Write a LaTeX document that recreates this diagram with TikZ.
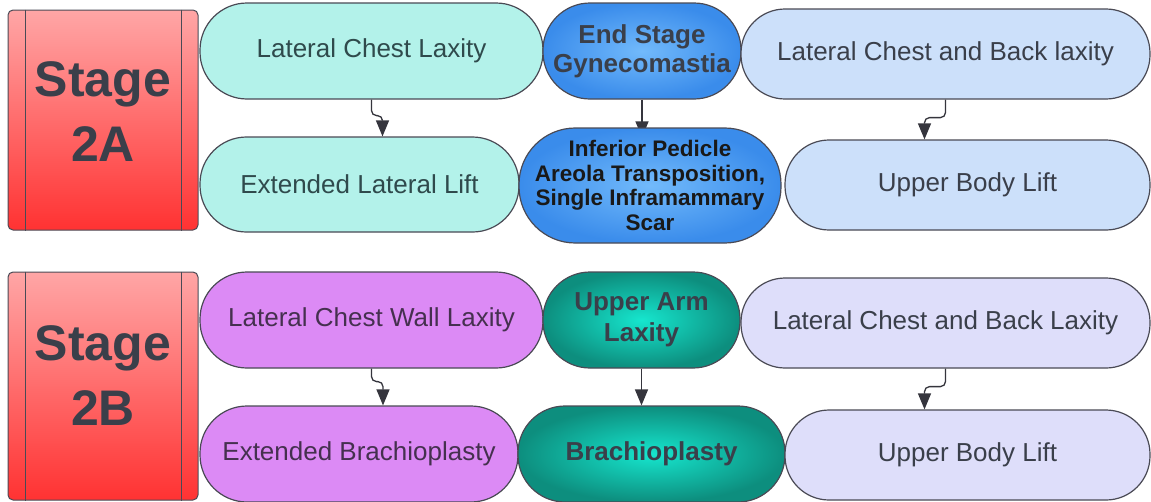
\documentclass[tikz,border=0pt]{standalone}
\usepackage{fontspec}
\setmainfont{Liberation Sans}
\usetikzlibrary{arrows.meta,calc}
\pgfdeclarelayer{background}
\pgfsetlayers{background,main}
\definecolor{strokec}{HTML}{4A4A55}
\definecolor{txtc}{HTML}{3A3F4A}
\definecolor{tealtxt}{HTML}{2F4A4C}
\definecolor{purptxt}{HTML}{45304F}
\definecolor{tealfill}{HTML}{B3F2EA}
\definecolor{bluefill}{HTML}{CCE0FA}
\definecolor{purplefill}{HTML}{DC8AF5}
\definecolor{lavfill}{HTML}{DEDEFA}
\definecolor{blueinner}{HTML}{72BAFB}
\definecolor{blueouter}{HTML}{3A8CEB}
\definecolor{tealinner}{HTML}{16E6CE}
\definecolor{tealouter}{HTML}{0D8E7E}
\definecolor{redtop}{HTML}{FFA6A6}
\definecolor{redbot}{HTML}{FF3232}
\definecolor{arrowc}{HTML}{35353D}
\newcommand\pillnode[7]{%
  \pgfmathsetmacro\mypw{#4-#2}%
  \pgfmathsetmacro\myph{#5-#3}%
  \pgfmathsetmacro\mypr{0.49*(#5-#3)}%
  \node[#6, minimum width=\mypw pt, minimum height=\myph pt, rounded corners=\mypr pt] (#1) at ({(#2+#4)/2},{(#3+#5)/2}) {#7};}
\begin{document}
\begin{tikzpicture}[x=1pt,y=-1pt,
  pill/.style={draw=strokec, line width=1.2pt, inner sep=0pt, align=center, text=txtc,
    font=\fontsize{26}{29}\selectfont},
  teal/.style={pill, fill=tealfill, text=tealtxt},
  lblue/.style={pill, fill=bluefill},
  purp/.style={pill, fill=purplefill, text=purptxt},
  lav/.style={pill, fill=lavfill},
  bluerad/.style={pill, inner color=blueinner, outer color=blueouter, font=\fontsize{26}{29}\selectfont\bfseries},
  tealrad/.style={pill, inner color=tealinner, outer color=tealouter, font=\fontsize{26}{31}\selectfont\bfseries, text=txtc},
  stagebox/.style={draw=strokec, line width=1pt, rounded corners=5pt, top color=redtop, bottom color=redbot},
  stagetext/.style={align=center, text=txtc, font=\fontsize{50}{65}\selectfont\bfseries},
  conn/.style={draw=arrowc, line width=1.3pt, rounded corners=5pt, -{Triangle[width=13pt,length=16pt]}}
]
\useasboundingbox (0,0) rectangle (1151,501);
\begin{pgfonlayer}{background}
\fill[white] (0,0) rectangle (1151,501);
\end{pgfonlayer}

% Stage boxes
\node[stagebox, minimum width=190pt, minimum height=220pt, inner sep=0pt] (s2a) at (103,120) {};
\draw[strokec, line width=1pt] ($(s2a.north west)+(18,0)$) -- ($(s2a.south west)+(18,0)$);
\draw[strokec, line width=1pt] ($(s2a.north east)+(-17,0)$) -- ($(s2a.south east)+(-17,0)$);
\node[stagetext] (s2at) at (103,112) {Stage\\2A};

\node[stagebox, minimum width=190pt, minimum height=228pt, inner sep=0pt] (s2b) at (103,386) {};
\draw[strokec, line width=1pt] ($(s2b.north west)+(18,0)$) -- ($(s2b.south west)+(18,0)$);
\draw[strokec, line width=1pt] ($(s2b.north east)+(-17,0)$) -- ($(s2b.south east)+(-17,0)$);
\node[stagetext] (s2bt) at (103,376) {Stage\\2B};

% Stage 2A rows
\pillnode{lcl}{200}{3}{543}{99}{teal}{Lateral Chest Laxity}
\pillnode{es}{543}{3}{741}{99}{bluerad}{End Stage\\Gynecomastia}
\pillnode{lcb}{741}{9}{1150}{99}{lblue}{Lateral Chest and Back laxity}
\pillnode{ell}{200}{137}{519}{232}{teal}{Extended Lateral Lift}
\pillnode{ip}{519}{128}{781}{243}{bluerad, text=black!90, font=\fontsize{22.5}{24.5}\selectfont\bfseries}{Inferior Pedicle\\Areola Transposition,\\Single Inframammary\\Scar}
\pillnode{ubl}{785}{140}{1150}{230}{lblue}{Upper Body Lift}

% Stage 2B rows
\pillnode{lcwl}{200}{272}{543}{368}{purp}{Lateral Chest Wall Laxity}
\pillnode{ua}{543}{272}{740}{368}{tealrad}{Upper Arm\\Laxity}
\pillnode{lcbl}{741}{278}{1150}{368}{lav}{Lateral Chest and Back Laxity}
\pillnode{eb}{200}{406}{518}{502}{purp}{Extended Brachioplasty}
\pillnode{br}{518}{406}{785}{502}{tealrad}{Brachioplasty}
\pillnode{ubl2}{785}{410}{1150}{500}{lav}{Upper Body Lift}

% connectors
\begin{pgfonlayer}{background}
\draw[conn] (es.south) -- ($(es.south |- ip.north)+(0,10)$);
\end{pgfonlayer}
\draw[conn] (lcl.south) -- ++(0,16) -| ($(ell.north)+(23,0)$);
\draw[conn] (lcb.south) -- ++(0,18) -| ($(ubl.north)+(-43,0)$);
\draw[conn] (lcwl.south) -- ++(0,13) -| ($(eb.north)+(24,0)$);
\draw[conn] (ua.south) -- (ua.south |- br.north);
\draw[conn] (lcbl.south) -- ++(0,18) -| ($(ubl2.north)+(-43,0)$);
\end{tikzpicture}
\end{document}
